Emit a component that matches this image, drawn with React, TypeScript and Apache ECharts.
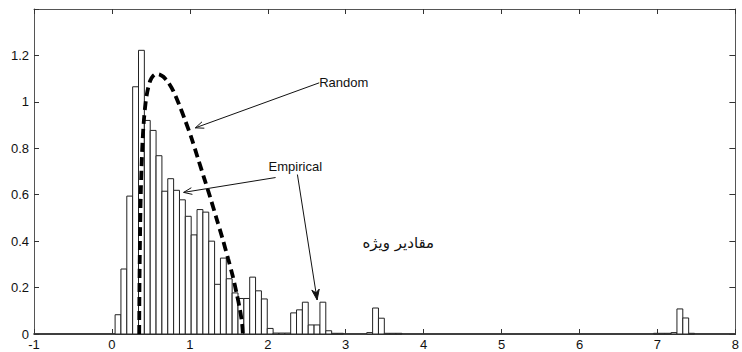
import React, { useEffect, useRef } from "react";
import * as echarts from "echarts";

// Histogram of empirical eigenvalues (100 bins of equal width)
const BIN_START = 0.0406;
const BIN_WIDTH = 0.0751;
const binHeights: number[] = [
  0.083, 0.28, 0.594, 1.065, 1.222, 0.92, 0.877, 0.768, 0.615, 0.669,
  0.619, 0.578, 0.507, 0.427, 0.536, 0.525, 0.4, 0.214, 0.327, 0.238,
  0.177, 0.153, 0.153, 0.245, 0.186, 0.151, 0.024, 0.004, 0.004, 0.004,
  0.091, 0.104, 0.137, 0.039, 0.039, 0.137, 0.014, 0.003, 0.003, 0,
  0, 0, 0, 0.006, 0.112, 0.068, 0.003, 0.003, 0.003, 0,
  0, 0, 0, 0, 0, 0, 0, 0, 0, 0,
  0, 0, 0, 0, 0, 0, 0, 0, 0, 0,
  0, 0, 0, 0, 0, 0, 0, 0, 0, 0,
  0, 0, 0, 0, 0, 0, 0, 0, 0, 0,
  0, 0, 0.003, 0.003, 0.003, 0.006, 0.108, 0.069, 0.003,
];

// Dashed "Random" density curve
const randomX: number[] = [
  0.35, 0.352, 0.356, 0.362, 0.37, 0.38, 0.393, 0.41, 0.43, 0.455, 0.49,
  0.53, 0.57, 0.61, 0.66, 0.72, 0.79, 0.86, 0.94, 1.02, 1.1, 1.18, 1.26,
  1.34, 1.42, 1.49, 1.55, 1.6, 1.64, 1.67, 1.68,
];
const randomY: number[] = [
  0, 0.15, 0.3, 0.45, 0.6, 0.72, 0.83, 0.92, 0.99, 1.045, 1.09,
  1.112, 1.12, 1.118, 1.108, 1.085, 1.045, 0.99, 0.92, 0.845, 0.76, 0.675, 0.59,
  0.5, 0.41, 0.325, 0.25, 0.175, 0.11, 0.045, 0,
];

const xTickMin = -1;
const xTickMax = 8;
const yTickMax = 1.4;

// Annotation anchors in data units
const randomLabel = { text: "Random", at: [2.66, 1.082], tip: [1.07, 0.888] };
const empiricalLabel = {
  text: "Empirical",
  at: [2.01, 0.72],
  from1: [2.1, 0.674],
  tip1: [0.92, 0.61],
  from2: [2.38, 0.687],
  tip2: [2.633, 0.147],
};
const persianLabel = { text: "مقادیر ویژه", at: [3.674, 0.393] };

function head(tip: number[], from: number[], len: number, deg: number) {
  const dx = from[0] - tip[0];
  const dy = from[1] - tip[1];
  const L = Math.hypot(dx, dy) || 1;
  const ux = dx / L;
  const uy = dy / L;
  const a = (deg * Math.PI) / 180;
  const c = Math.cos(a);
  const s = Math.sin(a);
  const w1 = [tip[0] + len * (ux * c - uy * s), tip[1] + len * (ux * s + uy * c)];
  const w2 = [tip[0] + len * (ux * c + uy * s), tip[1] + len * (-ux * s + uy * c)];
  const back = [tip[0] + len * 0.65 * ux, tip[1] + len * 0.65 * uy];
  return { w1, w2, back };
}

export default function App() {
  const ref = useRef<HTMLDivElement>(null);
  useEffect(() => {
    if (!ref.current) return;
    const chart = echarts.init(ref.current, undefined, { renderer: "svg" });
    const bars = binHeights.map((h, i) => [
      BIN_START + i * BIN_WIDTH,
      BIN_START + (i + 1) * BIN_WIDTH,
      h,
    ]);
    const curve = randomX.map((x, i) => [x, randomY[i]]);
    const labelStyle = {
      fontSize: 13,
      fontFamily: "Liberation Sans, Arial, sans-serif",
      color: "#111",
    };
    const boxLine = { show: true, lineStyle: { color: "#555", width: 1 } };
    chart.setOption({
      animation: false,
      backgroundColor: "#fff",
      grid: { left: 34, top: 9, width: 709, height: 325, containLabel: false },
      xAxis: [
        {
          type: "value",
          min: xTickMin,
          max: xTickMax,
          interval: 1,
          position: "bottom",
          axisLine: { show: true, onZero: false, lineStyle: { color: "#000", width: 1.5 } },
          axisTick: { show: true, inside: true, length: 5, lineStyle: { color: "#333" } },
          axisLabel: { ...labelStyle, margin: 4 },
          splitLine: { show: false },
        },
        {
          type: "value",
          min: xTickMin,
          max: xTickMax,
          interval: 1,
          position: "top",
          axisLine: { ...boxLine, onZero: false },
          axisTick: { show: true, inside: true, length: 5, lineStyle: { color: "#333" } },
          axisLabel: { show: false },
          splitLine: { show: false },
        },
      ],
      yAxis: [
        {
          type: "value",
          min: 0,
          max: yTickMax,
          interval: 0.2,
          position: "left",
          axisLine: { ...boxLine, onZero: false },
          axisTick: { show: true, inside: true, length: 5, lineStyle: { color: "#333" } },
          axisLabel: {
            ...labelStyle,
            margin: 5,
            formatter: (v: number) => (v > 1.3 ? "" : String(Math.round(v * 10) / 10)),
          },
          splitLine: { show: false },
        },
        {
          type: "value",
          min: 0,
          max: yTickMax,
          interval: 0.2,
          position: "right",
          axisLine: { ...boxLine, onZero: false },
          axisTick: { show: true, inside: true, length: 6, lineStyle: { color: "#333" } },
          axisLabel: { show: false },
          splitLine: { show: false },
        },
      ],
      series: [
        {
          type: "custom",
          xAxisIndex: 0,
          yAxisIndex: 0,
          data: bars,
          renderItem: (_params: any, api: any) => {
            const h = api.value(2);
            if (!(h > 0)) return null;
            const p0 = api.coord([api.value(0), h]);
            const p1 = api.coord([api.value(1), 0]);
            return {
              type: "rect",
              shape: { x: p0[0], y: p0[1], width: p1[0] - p0[0], height: p1[1] - p0[1] },
              style: { fill: "#fff", stroke: "#222", lineWidth: 1 },
            };
          },
          z: 2,
        },
        {
          type: "line",
          xAxisIndex: 0,
          yAxisIndex: 0,
          data: curve,
          smooth: 0.3,
          showSymbol: false,
          symbol: "none",
          lineStyle: { color: "#000", width: 3.8, type: [9, 5], cap: "butt" },
          z: 3,
        },
      ],
    });

    const P = (p: number[]) => chart.convertToPixel({ seriesIndex: 0 }, p) as number[];
    const rAt = P(randomLabel.at);
    const rTip = P(randomLabel.tip);
    const rHead = head(rTip, rAt, 9, 22);
    const eAt = P(empiricalLabel.at);
    const eFrom1 = P(empiricalLabel.from1);
    const eTip1 = P(empiricalLabel.tip1);
    const eHead1 = head(eTip1, eFrom1, 9, 22);
    const eFrom2 = P(empiricalLabel.from2);
    const eTip2 = P(empiricalLabel.tip2);
    const eHead2 = head(eTip2, eFrom2, 11, 20);
    const fAt = P(persianLabel.at);
    const textFont = { fontSize: 13, fontFamily: "Liberation Sans, Arial, sans-serif", fill: "#111" };
    const lineSty = { stroke: "#111", lineWidth: 1 };

    chart.setOption({
      graphic: [
        { type: "line", shape: { x1: rAt[0], y1: rAt[1], x2: rTip[0], y2: rTip[1] }, style: lineSty, z: 10 },
        { type: "polyline", shape: { points: [rHead.w1, rTip, rHead.w2] }, style: { ...lineSty, fill: null }, z: 10 },
        {
          type: "text",
          x: rAt[0],
          y: rAt[1],
          style: { ...textFont, text: randomLabel.text, align: "left", verticalAlign: "middle" },
          z: 10,
        },
        { type: "line", shape: { x1: eFrom1[0], y1: eFrom1[1], x2: eTip1[0], y2: eTip1[1] }, style: lineSty, z: 10 },
        { type: "polyline", shape: { points: [eHead1.w1, eTip1, eHead1.w2] }, style: { ...lineSty, fill: null }, z: 10 },
        { type: "line", shape: { x1: eFrom2[0], y1: eFrom2[1], x2: eTip2[0], y2: eTip2[1] }, style: lineSty, z: 10 },
        {
          type: "polygon",
          shape: { points: [eHead2.w1, eTip2, eHead2.w2, eHead2.back] },
          style: { fill: "#111", stroke: "#111", lineWidth: 1 },
          z: 10,
        },
        {
          type: "text",
          x: eAt[0],
          y: eAt[1],
          style: { ...textFont, text: empiricalLabel.text, align: "left", verticalAlign: "middle" },
          z: 10,
        },
        {
          type: "text",
          x: fAt[0],
          y: fAt[1],
          style: {
            ...textFont,
            fontSize: 15,
            fontFamily: "DejaVu Sans, Noto Sans, sans-serif",
            text: persianLabel.text,
            align: "center",
            verticalAlign: "middle",
          },
          z: 10,
        },
      ],
    });

    return () => chart.dispose();
  }, []);

  return (
    <div
      ref={ref}
      style={{ position: "fixed", left: 0, top: 0, width: 742, height: 352, background: "#fff" }}
    />
  );
}
